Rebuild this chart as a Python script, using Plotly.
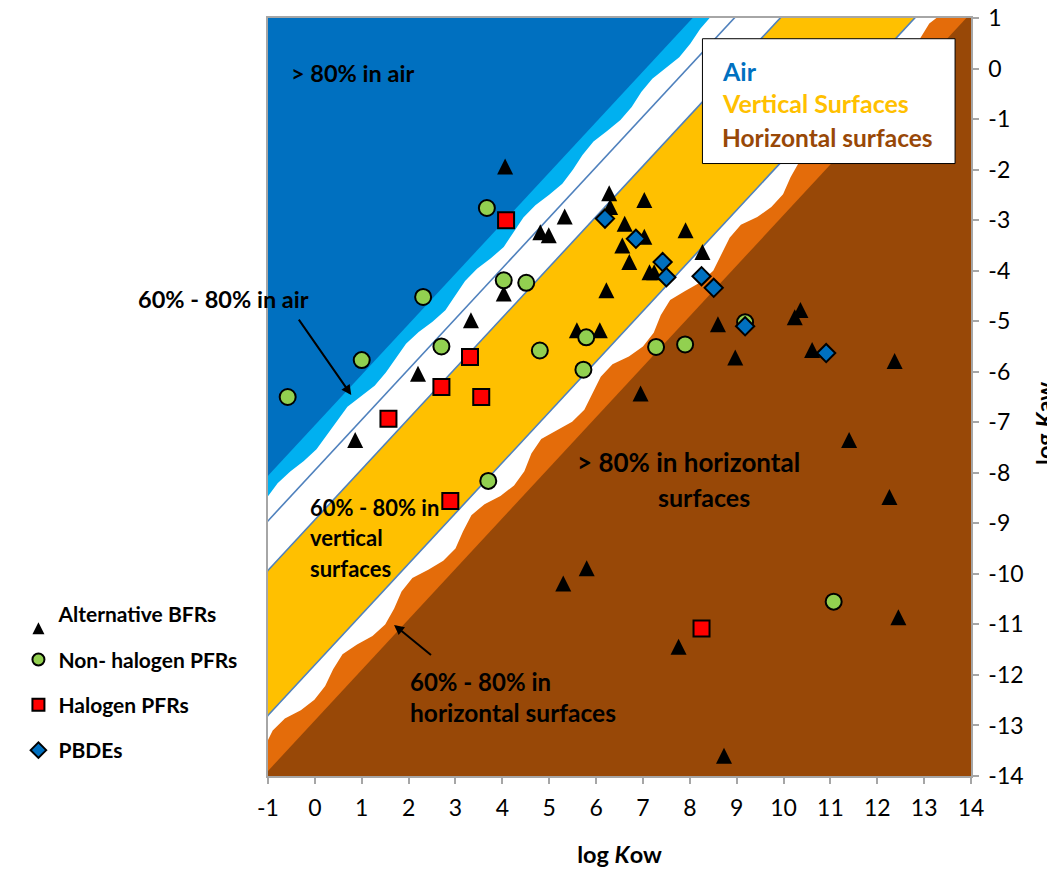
import plotly.graph_objects as go

# ---------------- data ----------------
bfr_x = [4.06, 6.28, 6.30, 7.03, 5.33, 4.81, 4.99, 6.61, 7.91, 7.03, 6.56, 6.71, 7.14, 7.24, 8.27, 6.22,
         4.03, 3.33, 2.20, 0.86, 5.59, 6.08, 6.95, 8.60, 8.97, 10.24, 10.36, 10.61, 12.37, 11.40, 12.26,
         5.30, 5.80, 7.76, 12.45, 8.73]
bfr_y = [-1.94, -2.47, -2.74, -2.60, -2.93, -3.24, -3.30, -3.07, -3.20, -3.33, -3.50, -3.83, -4.03, -4.03, -3.63, -4.39,
         -4.45, -4.98, -6.04, -7.35, -5.18, -5.18, -6.43, -5.06, -5.72, -4.92, -4.78, -5.57, -5.79, -7.35, -8.48,
         -10.19, -9.89, -11.44, -10.86, -13.60]

npfr_x = [-0.58, 1.00, 2.31, 3.67, 4.03, 4.51, 2.70, 4.80, 5.79, 5.73, 3.70, 7.28, 7.90, 9.18, 11.07]
npfr_y = [-6.50, -5.77, -4.52, -2.76, -4.19, -4.24, -5.50, -5.58, -5.32, -5.96, -8.16, -5.51, -5.46, -5.02, -10.55]

hpfr_x = [4.08, 3.31, 2.70, 3.55, 1.57, 2.89, 8.25]
hpfr_y = [-3.00, -5.71, -6.30, -6.50, -6.93, -8.56, -11.08]

pbde_x = [6.19, 6.85, 7.42, 7.50, 8.25, 8.51, 9.18, 10.91]
pbde_y = [-2.97, -3.37, -3.83, -4.13, -4.11, -4.34, -5.10, -5.63]

series_names = ["Alternative BFRs", "Non- halogen PFRs", "Halogen PFRs", "PBDEs"]

x_ticks = list(range(-1, 15))
y_ticks = list(range(-14, 2))

# region boundaries as log Koa = log Kow - log Kaw
koa_air80 = 7.06        # >80% in air (dark blue)
koa_air60 = 7.47        # 60-80% in air (light blue, ragged edge)
koa_line1 = 7.95
koa_line2 = 8.93        # start of vertical surfaces
koa_line3 = 11.80       # end of vertical surfaces
koa_hor60 = 12.40       # 60-80% horizontal (orange, ragged edge)
koa_hor80 = 12.90       # >80% horizontal (brown)

# ragged edges, sampled along the diagonal (s = logKow + logKaw)
air_edge_s = [-10 + 0.5 * i for i in range(41)]
air_edge_dev = [0.05, 0.00, -0.06, -0.02, 0.06, 0.10, 0.04, -0.04, -0.08, 0.00, 0.08, 0.06, -0.02, -0.08, -0.04,
                0.05, 0.10, 0.03, -0.06, -0.05, 0.04, 0.09, 0.02, -0.07, -0.06, 0.03, 0.09, 0.04, -0.05, -0.08,
                0.00, 0.07, 0.05, -0.04, -0.07, 0.01, 0.08, 0.05, -0.03, -0.05, 0.02]
hor_edge_s = [-15 + 0.5 * i for i in range(61)]
hor_edge_dev = [0.05, -0.05, -0.20, -0.18, 0.00, 0.08, 0.04, -0.12, -0.22, -0.10, 0.06, 0.10, -0.02, -0.20, -0.24,
                -0.06, 0.08, 0.10, -0.08, -0.22, -0.16, 0.02, 0.10, 0.04, -0.16, -0.24, -0.08, 0.08, 0.10, -0.06,
                -0.20, -0.20, 0.00, 0.10, 0.06, -0.14, -0.24, -0.10, 0.06, 0.10, -0.04, -0.20, -0.22, -0.02, 0.08,
                0.08, -0.10, -0.22, -0.14, 0.04, 0.10, 0.02, -0.16, -0.22, -0.06, 0.08, 0.08, -0.08, -0.18, -0.10, 0.04]

# colours
C_DARKBLUE = "#0070C0"
C_LIGHTBLUE = "#00B0F0"
C_YELLOW = "#FFC000"
C_ORANGE = "#E46C0A"
C_BROWN = "#984807"
C_LINE = "#4F81BD"
C_GRID = "#A6A6A6"
FONT = "Lato"

fig = go.Figure()

FAR_LO, FAR_HI = -30.0, 40.0


def upper_region(koa, s_list=None, dev=None):
    """Polygon of all points with logKow - logKaw < koa (upper-left side)."""
    if s_list is None:
        xs = [FAR_LO, FAR_HI]
        ys = [FAR_LO - koa, FAR_HI - koa]
    else:
        ss = [FAR_LO * 2] + list(s_list) + [FAR_HI * 2]
        dd = [dev[0]] + list(dev) + [dev[-1]]
        xs = [(s + koa + d) / 2 for s, d in zip(ss, dd)]
        ys = [(s - koa - d) / 2 for s, d in zip(ss, dd)]
    xs = xs + [xs[-1], FAR_LO - 60, xs[0]]
    ys = ys + [80.0, 80.0, ys[0]]
    return xs, ys


def add_fill(xs, ys, color):
    fig.add_trace(go.Scatter(x=xs, y=ys, mode="lines", fill="toself", fillcolor=color,
                             line=dict(width=0, color=color), hoverinfo="skip", showlegend=False))


add_fill(*upper_region(koa_hor80), C_ORANGE)
add_fill(*upper_region(koa_hor60, hor_edge_s, hor_edge_dev), "white")
add_fill(*upper_region(koa_line3), C_YELLOW)
add_fill(*upper_region(koa_line2), "white")
add_fill(*upper_region(koa_air60, air_edge_s, air_edge_dev), C_LIGHTBLUE)
add_fill(*upper_region(koa_air80), C_DARKBLUE)

for k in (koa_line1, koa_line2, koa_line3):
    fig.add_trace(go.Scatter(x=[FAR_LO, FAR_HI], y=[FAR_LO - k, FAR_HI - k], mode="lines",
                             line=dict(color=C_LINE, width=1.6), hoverinfo="skip", showlegend=False))

# ---------------- markers ----------------
fig.add_trace(go.Scatter(x=bfr_x, y=bfr_y, mode="markers", name=series_names[0], legendgroup="a",
                         marker=dict(symbol="arrow-down", angle=180, standoff=8, size=16, color="black",
                                     line=dict(width=0))))
fig.add_trace(go.Scatter(x=npfr_x, y=npfr_y, mode="markers", name=series_names[1], legendgroup="b",
                         marker=dict(symbol="circle", size=16, color="#92D050", line=dict(width=2, color="black"))))
fig.add_trace(go.Scatter(x=hpfr_x, y=hpfr_y, mode="markers", name=series_names[2], legendgroup="c",
                         marker=dict(symbol="square", size=16, color="#FF0000", line=dict(width=2, color="black"))))
fig.add_trace(go.Scatter(x=pbde_x, y=pbde_y, mode="markers", name=series_names[3], legendgroup="d",
                         marker=dict(symbol="diamond", size=14, color=C_DARKBLUE, line=dict(width=2, color="black"))))

# ---------------- annotations ----------------
ann = []


def txt(x, y, t, size=22, xanchor="left", color="black"):
    ann.append(dict(x=x, y=y, xref="x", yref="y", text="<b>%s</b>" % t, showarrow=False,
                    xanchor=xanchor, yanchor="middle", font=dict(family=FONT, size=size, color=color)))


txt(-0.55, -0.08, "&gt; 80% in air", size=23.5)
ann.append(dict(x=-0.188, y=0.6295, xref="paper", yref="paper", text="<b>60% - 80% in air</b>",
                showarrow=False, xanchor="left", yanchor="middle",
                font=dict(family=FONT, size=23.5, color="black")))
txt(-0.15, -8.68, "60% - 80% in", size=22)
txt(-0.15, -9.29, "vertical", size=22)
txt(-0.15, -9.90, "surfaces", size=22)
txt(7.98, -7.79, "&gt; 80% in horizontal", size=26, xanchor="center")
txt(8.31, -8.48, "surfaces", size=25, xanchor="center")
txt(1.99, -12.12, "60% - 80% in", size=24)
txt(1.99, -12.75, "horizontal surfaces", size=24.5)

# legend box for compartments
fig.add_shape(type="rect", x0=8.27, x1=13.66, y0=-1.88, y1=0.59, xref="x", yref="y",
              fillcolor="white", line=dict(color="black", width=1))
txt(8.65, -0.04, "Air", size=25, color=C_DARKBLUE)
txt(8.65, -0.69, "Vertical Surfaces", size=25, color=C_YELLOW)
txt(8.65, -1.36, "Horizontal surfaces", size=24.5, color=C_BROWN)

# arrows
for head, tail in (((0.777, -6.46), (-0.365, -4.94)), ((1.69, -11.01), (2.51, -11.63))):
    ann.append(dict(x=head[0], y=head[1], ax=tail[0], ay=tail[1], xref="x", yref="y", axref="x", ayref="y",
                    text="", showarrow=True, arrowhead=2, arrowsize=1, arrowwidth=2, arrowcolor="black",
                    standoff=0, startstandoff=0))

# right axis title (partly cut by the page edge, as in the original)
ann.append(dict(x=1.103, y=0.465, xref="paper", yref="paper", text="<b>log <i>K</i>aw</b>", textangle=-90,
                showarrow=False, xanchor="center", yanchor="middle",
                font=dict(family=FONT, size=23.5, color="black")))

axis_common = dict(showgrid=False, zeroline=False, showline=True, linecolor=C_GRID, linewidth=1.5, mirror=True,
                   ticks="outside", ticklen=6, tickcolor=C_GRID, tickwidth=1.5, automargin=False,
                   ticklabeloverflow="allow", tickmode="array",
                   tickfont=dict(family=FONT, size=23, color="black"))

fig.update_layout(
    width=1047, height=868,
    margin=dict(l=254, r=84, t=10, b=100),
    paper_bgcolor="white", plot_bgcolor=C_BROWN,
    xaxis=dict(range=[-1, 14], tickvals=x_ticks, ticktext=[str(v) for v in x_ticks], ticklabelstandoff=5,
               title=dict(text="<b>log <i>K</i>ow</b>", font=dict(family=FONT, size=23.5, color="black"),
                          standoff=26),
               **axis_common),
    yaxis=dict(range=[-14, 1], tickvals=y_ticks, ticktext=[str(v) for v in y_ticks], side="right",
               ticklabelstandoff=5, **axis_common),
    legend=dict(x=-0.355, y=0.240, xanchor="left", yanchor="top", bgcolor="rgba(0,0,0,0)",
                font=dict(family=FONT, size=21, color="black", weight="bold"), itemsizing="constant",
                traceorder="grouped", tracegroupgap=15),
    annotations=ann,
    showlegend=True,
)

fig.write_html("out.html")
